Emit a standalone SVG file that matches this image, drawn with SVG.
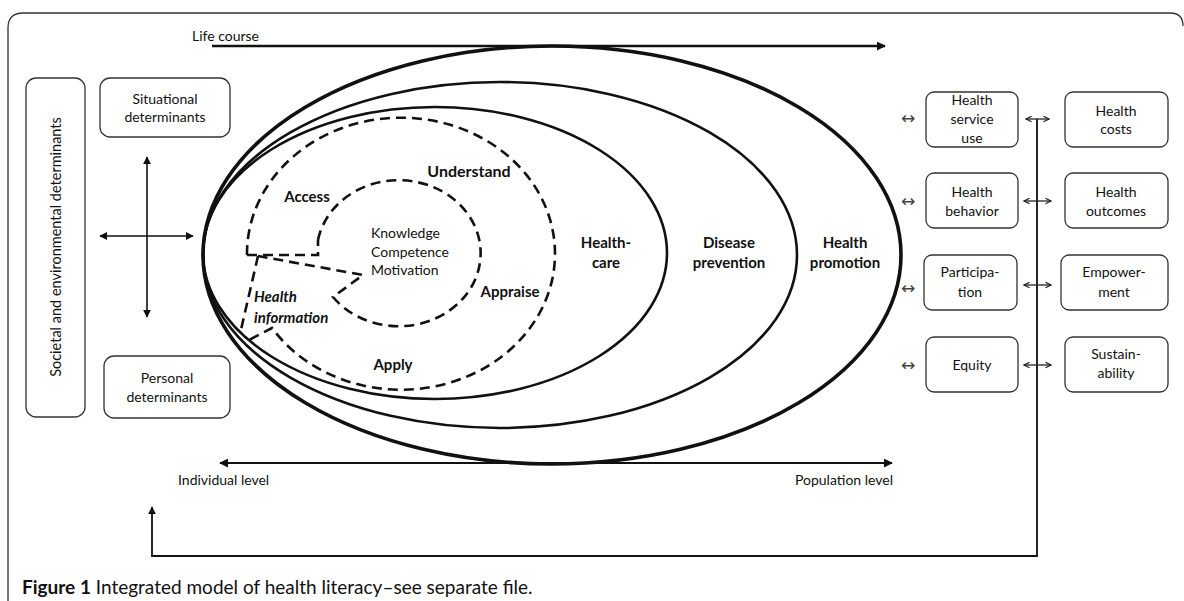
<svg xmlns="http://www.w3.org/2000/svg" width="1184" height="601" viewBox="0 0 1184 601">
<defs>
<marker id="ah" viewBox="0 0 10 10" refX="9" refY="5" markerWidth="9" markerHeight="9" markerUnits="userSpaceOnUse" orient="auto-start-reverse">
<path d="M0,0 L10,5 L0,10 z" fill="#111"/>
</marker>
<marker id="ahs" viewBox="0 0 10 10" refX="9" refY="5" markerWidth="8" markerHeight="8" markerUnits="userSpaceOnUse" orient="auto-start-reverse">
<path d="M0,0 L10,5 L0,10 z" fill="#111"/>
</marker>
<marker id="oh" viewBox="0 0 10 10" refX="9" refY="5" markerWidth="7" markerHeight="7" markerUnits="userSpaceOnUse" orient="auto-start-reverse">
<path d="M1,1 L9,5 L1,9" fill="none" stroke="#222" stroke-width="1.6"/>
</marker>
</defs>
<style>
text{font-family:Lato,"Liberation Sans",sans-serif;fill:#111}
.box{fill:#fff;stroke:#333;stroke-width:1.3}
.lbl{font-size:14px;text-anchor:middle}
.bold{font-size:15px;font-weight:bold;text-anchor:middle}
.dash{fill:none;stroke:#111;stroke-width:2.6;stroke-dasharray:10 6}
.line{fill:none;stroke:#111;stroke-width:1.6}
.small{font-size:14px}
.sym{font-family:"DejaVu Sans",sans-serif;font-size:17px;fill:#444;text-anchor:middle}
</style>
<rect width="1184" height="601" fill="#fff"/>
<path d="M8,601 V28 Q8,13 23,13 H1170 Q1183,13 1183,26" fill="none" stroke="#333" stroke-width="1.3"/>

<g id="connectors">
<line x1="212" y1="46" x2="885" y2="46" stroke="#111" stroke-width="2.4" marker-end="url(#ah)"/>
<line x1="220" y1="463" x2="892" y2="463" stroke="#111" stroke-width="2" marker-start="url(#ah)" marker-end="url(#ah)"/>
<line x1="147" y1="157" x2="147" y2="317" class="line" marker-start="url(#ahs)" marker-end="url(#ahs)"/>
<line x1="100" y1="236" x2="193" y2="236" class="line" marker-start="url(#ahs)" marker-end="url(#ahs)"/>
<path d="M1037,119 V556 H152 V507" fill="none" stroke="#111" stroke-width="1.8" marker-end="url(#ahs)"/>
<line x1="1026" y1="119" x2="1049" y2="119" stroke="#222" stroke-width="1.3" marker-start="url(#oh)" marker-end="url(#oh)"/>
<line x1="1024" y1="201" x2="1051" y2="201" stroke="#222" stroke-width="1.3" marker-start="url(#oh)" marker-end="url(#oh)"/>
<line x1="1024" y1="285" x2="1051" y2="285" stroke="#222" stroke-width="1.3" marker-start="url(#oh)" marker-end="url(#oh)"/>
<line x1="1024" y1="365" x2="1051" y2="365" stroke="#222" stroke-width="1.3" marker-start="url(#oh)" marker-end="url(#oh)"/>
<text class="sym" x="908" y="124">↔</text>
<text class="sym" x="908" y="207">↔</text>
<text class="sym" x="908" y="294">↔</text>
<text class="sym" x="908" y="371">↔</text>
</g>

<text x="192" y="41" style="font-size:14px">Life course</text>
<text x="178" y="485" class="small">Individual level</text>
<text x="893" y="485" class="small" text-anchor="end">Population level</text>

<g id="societal">
<rect class="box" x="26" y="78" width="59" height="339" rx="10"/>
<text class="lbl" transform="translate(61,247) rotate(-90)" style="font-size:14.5px">Societal and environmental determinants</text>
</g>
<g id="situational">
<rect class="box" x="100" y="78" width="130" height="59" rx="10"/>
<text class="lbl" x="165" y="104">Situational</text>
<text class="lbl" x="165" y="122">determinants</text>
</g>
<g id="personal">
<rect class="box" x="104" y="356" width="126" height="62" rx="10"/>
<text class="lbl" x="167" y="383">Personal</text>
<text class="lbl" x="167" y="402">determinants</text>
</g>

<g id="health-promotion">
<ellipse cx="552" cy="255" rx="349" ry="209" fill="none" stroke="#111" stroke-width="3.6"/>
<text class="bold" x="845" y="248">Health</text>
<text class="bold" x="845" y="268">promotion</text>
</g>
<g id="disease-prevention">
<ellipse cx="500" cy="255" rx="297" ry="173" fill="none" stroke="#111" stroke-width="2.6"/>
<text class="bold" x="729" y="248">Disease</text>
<text class="bold" x="729" y="268">prevention</text>
</g>
<g id="health-care">
<ellipse cx="435" cy="253" rx="232" ry="146" fill="none" stroke="#111" stroke-width="2.6"/>
<text class="bold" x="606" y="248">Health-</text>
<text class="bold" x="606" y="268">care</text>
</g>

<g id="literacy">
<path class="dash" d="M247,255 A154,136 0 1 1 272,328 L247,341"/>
<path class="dash" d="M258,256 L240,334"/>
<path class="dash" d="M247,255 H318 V240"/>
<path class="dash" d="M318,240 A82,73 0 1 1 333,297 L363,275 L258,256"/>
<text class="bold" x="307" y="202">Access</text>
<text class="bold" x="469" y="177" style="font-size:16px">Understand</text>
<text class="bold" x="510" y="297">Appraise</text>
<text class="bold" x="393" y="370">Apply</text>
<text x="254" y="302" style="font-size:15px;font-weight:bold;font-style:italic">Health</text>
<text x="254" y="323" style="font-size:15px;font-weight:bold;font-style:italic">information</text>
</g>
<g id="core">
<text x="371" y="238" style="font-size:14px">Knowledge</text>
<text x="371" y="257" style="font-size:14px">Competence</text>
<text x="371" y="275" style="font-size:14px">Motivation</text>
</g>

<g id="health-service-use">
<rect class="box" x="926" y="92" width="92" height="55" rx="8"/>
<text class="lbl" x="972" y="105">Health</text>
<text class="lbl" x="972" y="124">service</text>
<text class="lbl" x="972" y="143">use</text>
</g>
<g id="health-behavior">
<rect class="box" x="926" y="173" width="92" height="55" rx="8"/>
<text class="lbl" x="972" y="197">Health</text>
<text class="lbl" x="972" y="216">behavior</text>
</g>
<g id="participation">
<rect class="box" x="924" y="255" width="93" height="55" rx="8"/>
<text class="lbl" x="970" y="277">Participa-</text>
<text class="lbl" x="970" y="297">tion</text>
</g>
<g id="equity">
<rect class="box" x="926" y="337" width="92" height="55" rx="8"/>
<text class="lbl" x="972" y="370">Equity</text>
</g>
<g id="health-costs">
<rect class="box" x="1065" y="92" width="103" height="55" rx="8"/>
<text class="lbl" x="1116" y="116">Health</text>
<text class="lbl" x="1116" y="134">costs</text>
</g>
<g id="health-outcomes">
<rect class="box" x="1065" y="173" width="103" height="55" rx="8"/>
<text class="lbl" x="1116" y="197">Health</text>
<text class="lbl" x="1116" y="216">outcomes</text>
</g>
<g id="empowerment">
<rect class="box" x="1061" y="255" width="107" height="55" rx="8"/>
<text class="lbl" x="1114" y="277">Empower-</text>
<text class="lbl" x="1114" y="297">ment</text>
</g>
<g id="sustainability">
<rect class="box" x="1065" y="337" width="103" height="55" rx="8"/>
<text class="lbl" x="1116" y="359">Sustain-</text>
<text class="lbl" x="1116" y="378">ability</text>
</g>

<text x="22" y="594" style="font-size:19px"><tspan font-weight="bold">Figure 1</tspan> Integrated model of health literacy–see separate file.</text>
</svg>
